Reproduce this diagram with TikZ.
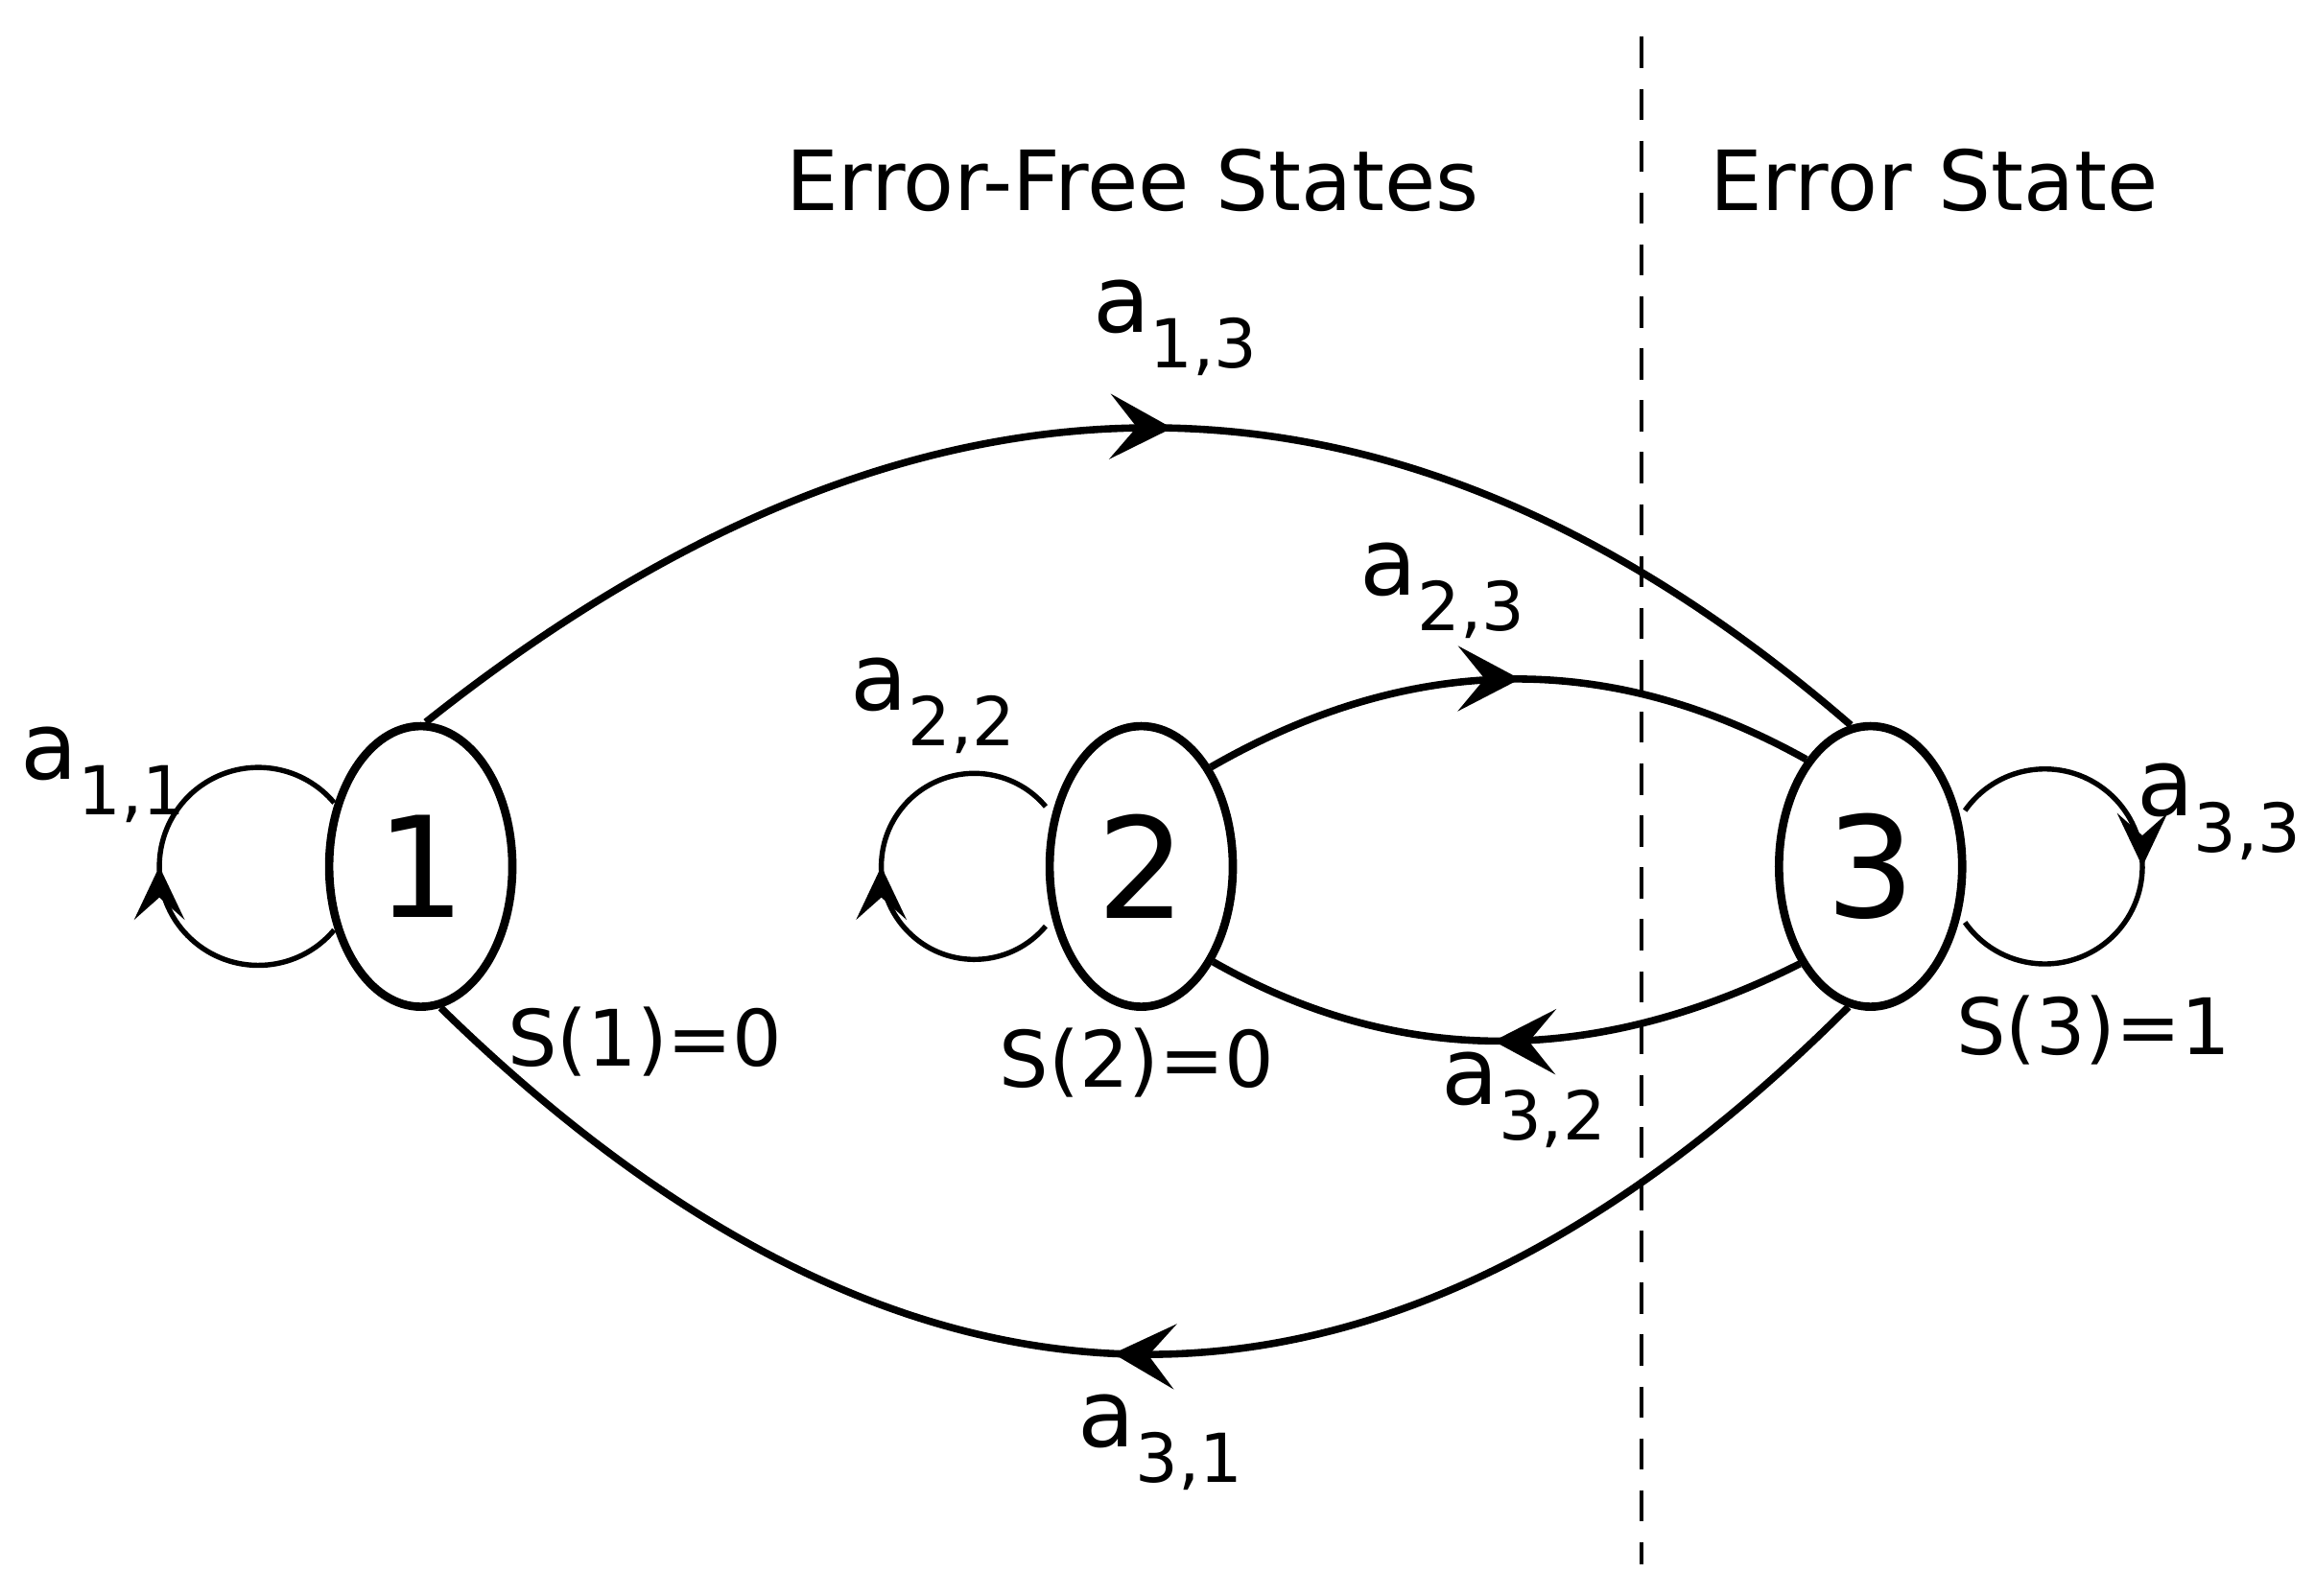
\documentclass[tikz,border=0pt]{standalone}
\usepackage{fontspec}
\setmainfont{DejaVu Sans}
\usetikzlibrary{shapes.geometric,arrows.meta,decorations.markings}
\newcommand\lab[2]{#1\raisebox{-0.7ex}{\fontsize{13}{13}\selectfont #2}}
\begin{document}
\begin{tikzpicture}[x=0.01cm,y=0.01cm,
  st/.style={ellipse,draw,line width=1.6pt,minimum width=1.24cm,minimum height=1.9cm,inner sep=0pt,font=\fontsize{27}{27}\selectfont},
  edge/.style={line width=1.4pt,postaction={decorate},decoration={markings,mark=at position 0.52 with {\arrow{Stealth[length=4.2mm,width=4.4mm,inset=1.8mm]}}}},
  loop/.style={line width=1pt,postaction={decorate},decoration={markings,mark=at position 0.5 with {\arrow{Stealth[length=3.6mm,width=3.4mm,inset=1.5mm]}}}},
  lbl/.style={font=\fontsize{18}{20}\selectfont},
  sl/.style={font=\fontsize{15}{17}\selectfont}]
\useasboundingbox (0,0) rectangle (1568,-1081);
\node[st] (n1) at (285,-587) {1};
\node[st] (n2) at (773,-587) {2};
\node[st] (n3) at (1267,-587) {3};
\coordinate (dt) at (1112,-25);
\coordinate (db) at (1112,-1060);
\draw[line width=0.8pt,dash pattern=on 6pt off 4pt] (dt) -- (db);
\node[font=\fontsize{16}{18}\selectfont] (t1) at (767,-122) {Error-Free States};
\node[font=\fontsize{16}{18}\selectfont] (t2) at (1310,-122) {Error State};
% edges
\draw[edge] (n1.88) .. controls (623,-223) and (944,-223) .. (n3.98);
\draw[edge] (n2.55) .. controls (957,-441) and (1092,-441) .. (n3.121);
\draw[edge] (n3.234) .. controls (1080,-723) and (947,-723) .. (n2.-53);
\draw[edge] (n3.261) .. controls (938,-996) and (619,-996) .. (n1.278);
% loops
\draw[loop] (175,-587) ++(-40:67) arc[start angle=-40,end angle=-320,radius=0.67cm];
\draw[loop] (660,-587) ++(-40:63) arc[start angle=-40,end angle=-320,radius=0.63cm];
\draw[loop] (1385,-587) ++(145:66) arc[start angle=145,end angle=-145,radius=0.66cm];
% labels
\node[lbl] (l11) at (70,-525) {\lab{a}{1,1}};
\node[lbl] (l22) at (632,-478) {\lab{a}{2,2}};
\node[lbl] (l13) at (796,-222) {\lab{a}{1,3}};
\node[lbl] (l23) at (977,-400) {\lab{a}{2,3}};
\node[lbl] (l32) at (1032,-745) {\lab{a}{3,2}};
\node[lbl] (l31) at (786,-977) {\lab{a}{3,1}};
\node[lbl] (l33) at (1503,-550) {\lab{a}{3,3}};
\node[sl] (s1) at (437,-706) {S(1)=0};
\node[sl] (s2) at (770,-720) {S(2)=0};
\node[sl] (s3) at (1418,-698) {S(3)=1};
\end{tikzpicture}
\end{document}
